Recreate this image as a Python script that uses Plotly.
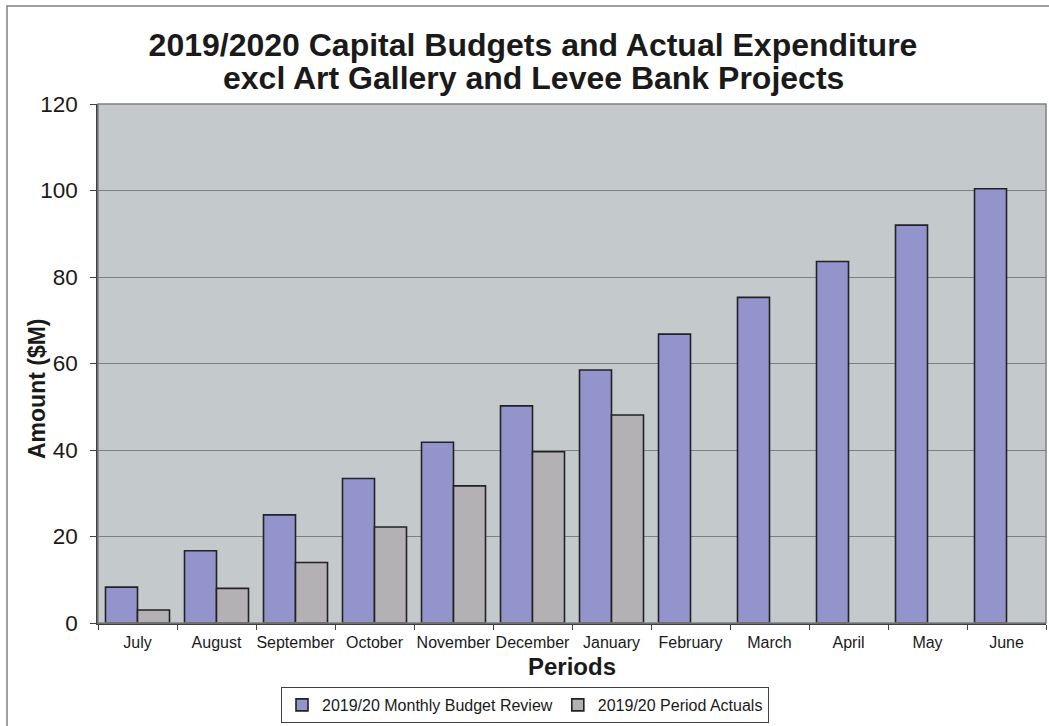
import plotly.graph_objects as go

months = ["July", "August", "September", "October", "November", "December",
          "January", "February", "March", "April", "May", "June"]
budget = [8.3, 16.7, 25.0, 33.4, 41.8, 50.2, 58.5, 66.8, 75.3, 83.6, 92.0, 100.4]
actuals = [3.0, 8.0, 14.0, 22.2, 31.7, 39.6, 48.1, None, None, None, None, None]
y_ticks = [0, 20, 40, 60, 80, 100, 120]

W, H = 1049, 726
L, R, T, B = 98, 3, 104, 103
pw, ph = W - L - R, H - T - B

FONT = "Liberation Sans, Arial, sans-serif"
TXT = "#1a1a1a"

def py(y_px):
    """pixel row -> paper y"""
    return (H - B - y_px) / ph

def px(x_px):
    return (x_px - L) / pw

fig = go.Figure()
fig.add_trace(go.Bar(
    x=months, y=budget, name="2019/20 Monthly Budget Review",
    marker=dict(color="#9494CC", line=dict(color="#222222", width=1.6)),
))
fig.add_trace(go.Bar(
    x=months, y=actuals, name="2019/20 Period Actuals",
    marker=dict(color="#B3B1B4", line=dict(color="#222222", width=1.6)),
))

fig.update_layout(
    width=W, height=H,
    margin=dict(l=L, r=R, t=T, b=B, autoexpand=False),
    paper_bgcolor="white",
    plot_bgcolor="#C4C9CC",
    barmode="group", bargap=0.19, bargroupgap=0,
    font=dict(family=FONT, color=TXT),
    title=dict(
        text="<b>2019/2020 Capital Budgets and Actual Expenditure</b>",
        x=533 / W, xref="container", xanchor="center",
        y=1 - 45 / H, yref="container", yanchor="middle",
        font=dict(size=32, family=FONT, color=TXT),
    ),
    xaxis=dict(
        type="category", tickson="boundaries", ticks="outside", ticklen=5,
        tickangle=0, ticklabelstandoff=4,
        tickcolor="#404040", tickfont=dict(size=16, family=FONT, color=TXT),
        showline=True, linecolor="#404040", linewidth=1.5, showgrid=False,
        title=dict(text="<b>Periods</b>", font=dict(size=24, family=FONT, color=TXT), standoff=8),
    ),
    yaxis=dict(
        range=[0, 120], tickvals=y_ticks, ticks="outside", ticklen=6,
        ticklabelstandoff=8,
        tickcolor="#404040", tickfont=dict(size=22.5, family=FONT, color=TXT),
        showline=True, linecolor="#404040", linewidth=1.5,
        showgrid=True, gridcolor="#7F7F7F", gridwidth=1, zeroline=False,
    ),
    legend=dict(
        orientation="h", xref="container", yref="container",
        x=525 / W, xanchor="center", y=1 - 687 / H, yanchor="top",
        bordercolor="#404040", borderwidth=1, bgcolor="white",
        font=dict(size=16, family=FONT, color=TXT),
        itemwidth=30, traceorder="normal",
    ),
    annotations=[
        dict(
            text="<b>excl Art Gallery and Levee Bank Projects</b>",
            xref="paper", yref="paper", x=px(533), y=py(78),
            xanchor="center", yanchor="middle", showarrow=False,
            font=dict(size=32, family=FONT, color=TXT),
        ),
        dict(
            text="<b>Amount ($M)</b>", textangle=-90,
            xref="paper", yref="paper", x=px(37), y=py(388),
            xanchor="center", yanchor="middle", showarrow=False,
            font=dict(size=23, family=FONT, color=TXT),
        ),
    ],
    shapes=[
        dict(type="rect", xref="paper", yref="paper", x0=0, x1=1, y0=0, y1=1,
             line=dict(color="#808080", width=1.5), layer="above"),
        dict(type="rect", xref="paper", yref="paper",
             x0=px(7), x1=px(W + 20), y0=py(H + 20), y1=py(6),
             line=dict(color="#808080", width=1.5), layer="above"),
    ],
)

fig.write_html("out.html", config={"displayModeBar": False},
               post_script="document.body.style.margin='0';")
